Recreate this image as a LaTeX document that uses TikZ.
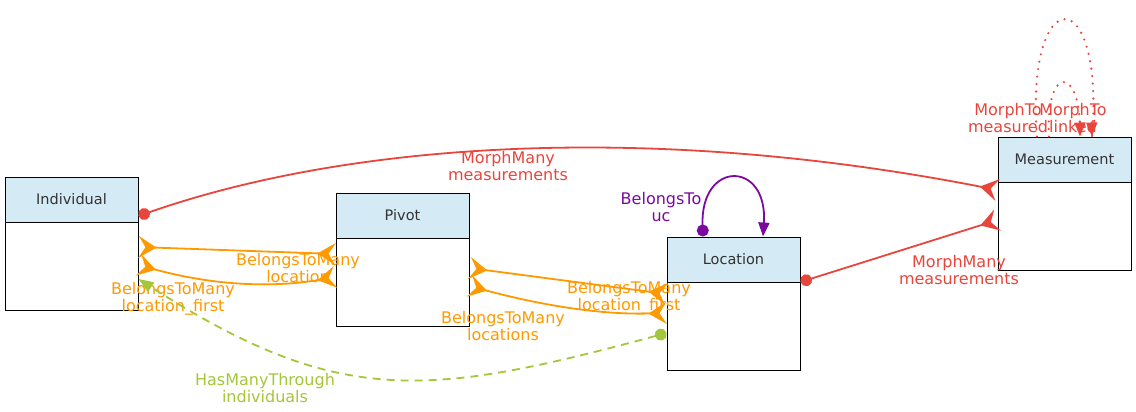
\documentclass[tikz,border=0pt]{standalone}
\usepackage{fontspec}
\setmainfont{DejaVu Sans}
\usetikzlibrary{arrows.meta}
\definecolor{cred}{HTML}{E8453C}
\definecolor{corange}{HTML}{FF9900}
\definecolor{cpurple}{HTML}{7A0A9E}
\definecolor{cgreen}{HTML}{A4C639}
\definecolor{hdrblue}{HTML}{D4EBF5}
\definecolor{txtgray}{HTML}{333333}
\tikzset{
  crowtip/.tip={Stealth[reversed,length=18pt,width=22pt,inset=7pt]},
  dottip/.tip={Circle[length=12pt]},
}
\begin{document}
\begin{tikzpicture}[x=1pt,y=-1pt,
  font=\fontsize{14.5}{17}\selectfont,
  box/.style={draw=black, line width=1pt, minimum width=133pt, minimum height=133pt, inner sep=0pt, fill=white},
  hdr/.style={draw=black, line width=1pt, fill=hdrblue, minimum width=133pt, minimum height=45pt, inner sep=0pt, text=txtgray},
  lbl/.style={align=center, inner sep=0pt, font=\fontsize{16}{17}\selectfont},
  edge/.style={line width=1.8pt},
  dotline/.style={line width=2.4pt, line cap=round, dash pattern=on 0pt off 7.5pt},
]
\useasboundingbox (0,0) rectangle (1136,412);
% boxes
\node[box] (ind) at (71.5,243.5) {};
\node[hdr, anchor=north] (indh) at (ind.north) {Individual};
\node[box] (piv) at (402.5,259.5) {};
\node[hdr, anchor=north] (pivh) at (piv.north) {Pivot};
\node[box] (loc) at (733.5,303.5) {};
\node[hdr, anchor=north] (loch) at (loc.north) {Location};
\node[box] (mea) at (1064.5,203.5) {};
\node[hdr, anchor=north] (meah) at (mea.north) {Measurement};

% red MorphMany Individual -> Measurement
\draw[edge, cred, dottip-crowtip] ([yshift=27.5pt]ind.east) .. controls (350,142) and (650,122) .. ([yshift=13.5pt]mea.west);
\node[lbl, text=cred] (l1) at (508,166) {MorphMany\\measurements};
% red MorphMany Location -> Measurement
\draw[edge, cred, dottip-crowtip] ([yshift=21.5pt]loc.east) -- ([yshift=-16.5pt]mea.west);
\node[lbl, text=cred] (l2) at (959,270) {MorphMany\\measurements};

% orange Individual - Pivot
\draw[edge, corange, crowtip-crowtip] ([yshift=-3.5pt]ind.east) -- ([yshift=5.5pt]piv.west);
\draw[edge, corange, crowtip-crowtip] ([yshift=-21.5pt]ind.east) .. controls (230,290) and (290,285) .. ([yshift=-17.5pt]piv.west);
\node[lbl, text=corange] (l3) at (298,268) {BelongsToMany\\location};
\node[lbl, text=corange] (l4) at (173,299) {BelongsToMany\\location\_first};

% orange Pivot - Location
\draw[edge, corange, crowtip-crowtip] ([yshift=-8.5pt]piv.east) -- ([yshift=9.5pt]loc.west);
\draw[edge, corange, crowtip-crowtip] ([yshift=-26.5pt]piv.east) .. controls (540,305) and (600,315) .. ([yshift=-9.5pt]loc.west);
\node[lbl, text=corange] (l5) at (629,298) {BelongsToMany\\location\_first};
\node[lbl, text=corange] (l6) at (503,326) {BelongsToMany\\locations};

% green HasManyThrough
\draw[edge, cgreen, dash pattern=on 8pt off 6pt, dottip-{Triangle[length=15pt,width=11pt]}] ([yshift=-29.5pt]loc.west) .. controls (426,398) and (338,407) .. ([yshift=-35.5pt]ind.east);
\node[lbl, text=cgreen] (l7) at (265,388) {HasManyThrough\\individuals};

% purple BelongsTo self loop
\draw[edge, cpurple, dottip-{Triangle[length=14pt,width=11pt]}] ([xshift=-30.5pt]loc.north) .. controls (700,160) and (768,160) .. ([xshift=29.5pt]loc.north);
\node[lbl, text=cpurple] (l8) at (661,207) {BelongsTo\\uc};

% red dotted MorphTo self loops
\draw[dotline, cred] ([xshift=-27.5pt]mea.north) .. controls (1025,-20) and (1105,-20) .. ([xshift=27.5pt]mea.north);
\draw[dotline, cred] ([xshift=-15.5pt]mea.north) .. controls (1045,64) and (1082,64) .. ([xshift=15.5pt]mea.north);
\draw[edge, cred, -{Triangle[length=14pt,width=11pt]}] ([xshift=27.2pt,yshift=15pt]mea.north) -- ([xshift=27.5pt]mea.north);
\draw[edge, cred, -{Triangle[length=14pt,width=11pt]}] ([xshift=15.4pt,yshift=15pt]mea.north) -- ([xshift=15.5pt]mea.north);
\node[lbl, text=cred] (l9) at (1008,118) {MorphTo\\measured};
\node[lbl, text=cred] (l10) at (1073,118) {MorphTo\\linked};
\end{tikzpicture}
\end{document}
